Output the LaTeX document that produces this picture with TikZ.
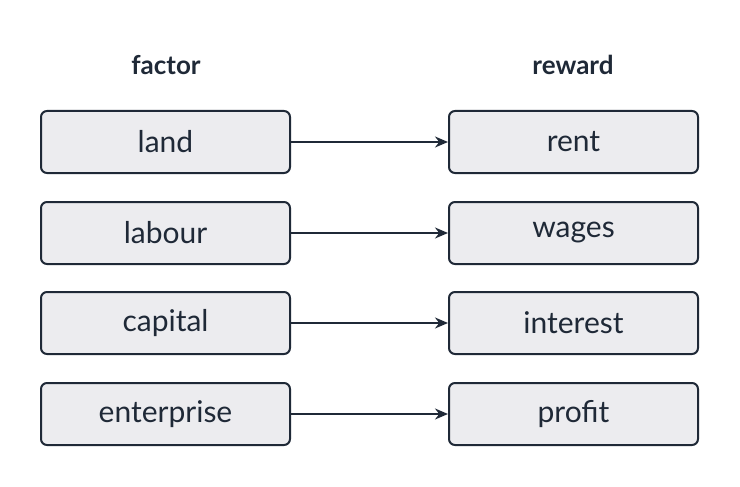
\documentclass[tikz,border=0pt]{standalone}
\usepackage{fontspec}
\setmainfont{Lato}
\usetikzlibrary{arrows.meta}
\definecolor{ink}{HTML}{1F2937}
\definecolor{boxfill}{HTML}{ECECEF}
\begin{document}
\begin{tikzpicture}[x=1pt,y=-1pt,
  box/.style={draw=ink,line width=2pt,fill=boxfill,rounded corners=6pt,minimum width=249pt,minimum height=62pt,inner sep=0pt,font=\fontsize{30}{34}\selectfont,text=ink},
  head/.style={font=\bfseries\fontsize{26}{30}\selectfont,text=ink},
  arr/.style={draw=ink,line width=2pt,-{Stealth[length=13pt,width=11pt]}}]
\path[use as bounding box] (0,0) rectangle (740,487);
\node[head] (hf) at (166,65) {factor};
\node[head] (hr) at (573,65) {reward};
\foreach \n/\a/\b/\y in {1/land/rent/142,2/labour/wages/233,3/capital/interest/323,4/enterprise/profit/414}{
  \node[box] (l\n) at (165.5,\y) {\a};
  \node[box] (r\n) at (573.5,\y) {\b};
  \draw[arr] (l\n) -- (r\n);
}
\end{tikzpicture}
\end{document}
